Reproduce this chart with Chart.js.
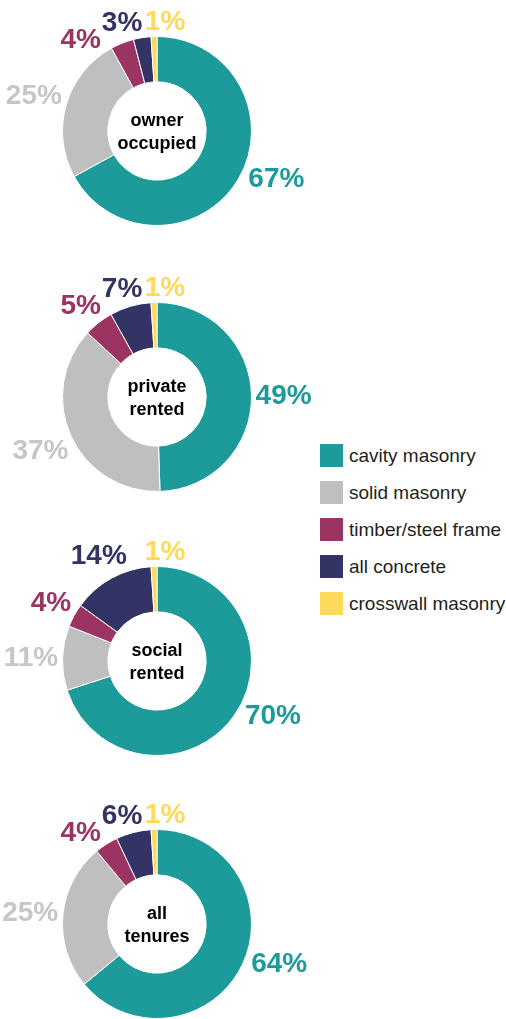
<!DOCTYPE html>
<html lang="en">
<head>
  <meta charset="UTF-8" />
  <title>Wall construction by tenure</title>
  <script src="https://cdn.jsdelivr.net/npm/chart.js"></script>
  <style>
    html, body {
      margin: 0;
      padding: 0;
      background: #fff;
      overflow: hidden;
      width: 506px;
      height: 1019px;
      font-family: 'Liberation Sans', Arial, sans-serif;
    }
    .donut {
      position: absolute;
      left: 0;
    }
    #legend {
      position: absolute;
      left: 320px;
      top: 444px;
    }
    .legend-item {
      display: flex;
      align-items: center;
      height: 23px;
      margin-bottom: 14px;
      font-size: 19px;
      color: #231f20;
    }
    .legend-swatch {
      width: 23px;
      height: 23px;
      margin-right: 6px;
      flex: none;
    }
  </style>
</head>
<body>
  <div id="charts"></div>
  <div id="legend"></div>

  <script>
    // Wall types (same order in every ring, clockwise from 12 o'clock)
    const categories = ['cavity masonry', 'solid masonry', 'timber/steel frame', 'all concrete', 'crosswall masonry'];
    const colors = ['#1d9b9b', '#bfbfbf', '#9b3363', '#333366', '#ffd95a'];
    const labelColors = ['#1d9b9b', '#c6c6c6', '#9b3363', '#333366', '#ffd95a'];

    // Share of dwellings (%) per tenure
    const ownerOccupied = [67, 25, 4, 3, 1];
    const privateRented = [49, 37, 5, 7, 1];
    const socialRented  = [70, 11, 4, 14, 1];
    const allTenures    = [64, 25, 4, 6, 1];

    const tenureNames = [['owner', 'occupied'], ['private', 'rented'], ['social', 'rented'], ['all', 'tenures']];
    const tenureValues = [ownerOccupied, privateRented, socialRented, allTenures];

    // layout of the stacked rings
    const centersY = [131, 397, 661, 924];
    const canvasW = 316, canvasH = 266;
    const ring = 190;

    const deg = Math.PI / 180;

    // percentage labels outside the ring, pushed apart near the top
    const outerLabels = {
      id: 'outerLabels',
      afterDatasetsDraw(chart) {
        const ctx = chart.ctx;
        const meta = chart.getDatasetMeta(0);
        const values = chart.data.datasets[0].data;
        const arcs = meta.data;
        const minGap = 22 * deg;
        const angles = [];
        for (let i = arcs.length - 1; i >= 0; i--) {
          // angle measured clockwise from top
          let mid = (arcs[i].startAngle + arcs[i].endAngle) / 2 + Math.PI / 2;
          // right-hand labels lean towards 3 o'clock
          if (mid < Math.PI) mid = 90 * deg + (mid - 90 * deg) * 0.7;
          if (i === arcs.length - 1) angles[i] = mid + 6 * deg;
          else angles[i] = Math.min(mid, angles[i + 1] - minGap);
        }
        ctx.save();
        ctx.font = 'bold 28px "Liberation Sans", Arial, sans-serif';
        ctx.textAlign = 'center';
        ctx.textBaseline = 'middle';
        arcs.forEach((arc, i) => {
          const text = values[i] + '%';
          const w = ctx.measureText(text).width;
          const a = angles[i];
          const sx = Math.sin(a), cy = -Math.cos(a);
          const extent = Math.abs(sx) * w / 2 + Math.abs(cy) * 10;
          const r = arc.outerRadius + 4 + extent;
          ctx.fillStyle = labelColors[i];
          ctx.fillText(text, arc.x + sx * r, arc.y + cy * r + 1);
        });
        ctx.restore();
      }
    };

    // tenure name in the hole
    const centerText = {
      id: 'centerText',
      afterDatasetsDraw(chart, args, opts) {
        const ctx = chart.ctx;
        const arc = chart.getDatasetMeta(0).data[0];
        ctx.save();
        ctx.font = 'bold 18px "Liberation Sans", Arial, sans-serif';
        ctx.fillStyle = '#000';
        ctx.textAlign = 'center';
        ctx.textBaseline = 'middle';
        opts.lines.forEach((line, k) => {
          ctx.fillText(line, arc.x, arc.y + 2 + (k - (opts.lines.length - 1) / 2) * 23);
        });
        ctx.restore();
      }
    };

    const holder = document.getElementById('charts');
    tenureValues.forEach((values, t) => {
      const canvas = document.createElement('canvas');
      canvas.className = 'donut';
      canvas.width = canvasW;
      canvas.height = canvasH;
      canvas.style.top = (centersY[t] - canvasH / 2) + 'px';
      holder.appendChild(canvas);

      const padY = (canvasH - ring) / 2;
      new Chart(canvas.getContext('2d'), {
        type: 'doughnut',
        data: {
          labels: categories,
          datasets: [{
            data: values,
            backgroundColor: colors,
            borderColor: '#fff',
            borderWidth: 1
          }]
        },
        options: {
          responsive: false,
          animation: false,
          cutout: '52%',
          layout: { padding: { left: 62, right: canvasW - 62 - ring, top: padY, bottom: padY } },
          events: [],
          plugins: {
            legend: { display: false },
            tooltip: { enabled: false },
            centerText: { lines: tenureNames[t] }
          }
        },
        plugins: [outerLabels, centerText]
      });
    });

    // legend
    const legend = document.getElementById('legend');
    categories.forEach((name, i) => {
      const item = document.createElement('div');
      item.className = 'legend-item';
      const sw = document.createElement('span');
      sw.className = 'legend-swatch';
      sw.style.background = colors[i];
      const label = document.createElement('span');
      label.textContent = name;
      item.appendChild(sw);
      item.appendChild(label);
      legend.appendChild(item);
    });
  </script>
</body>
</html>
